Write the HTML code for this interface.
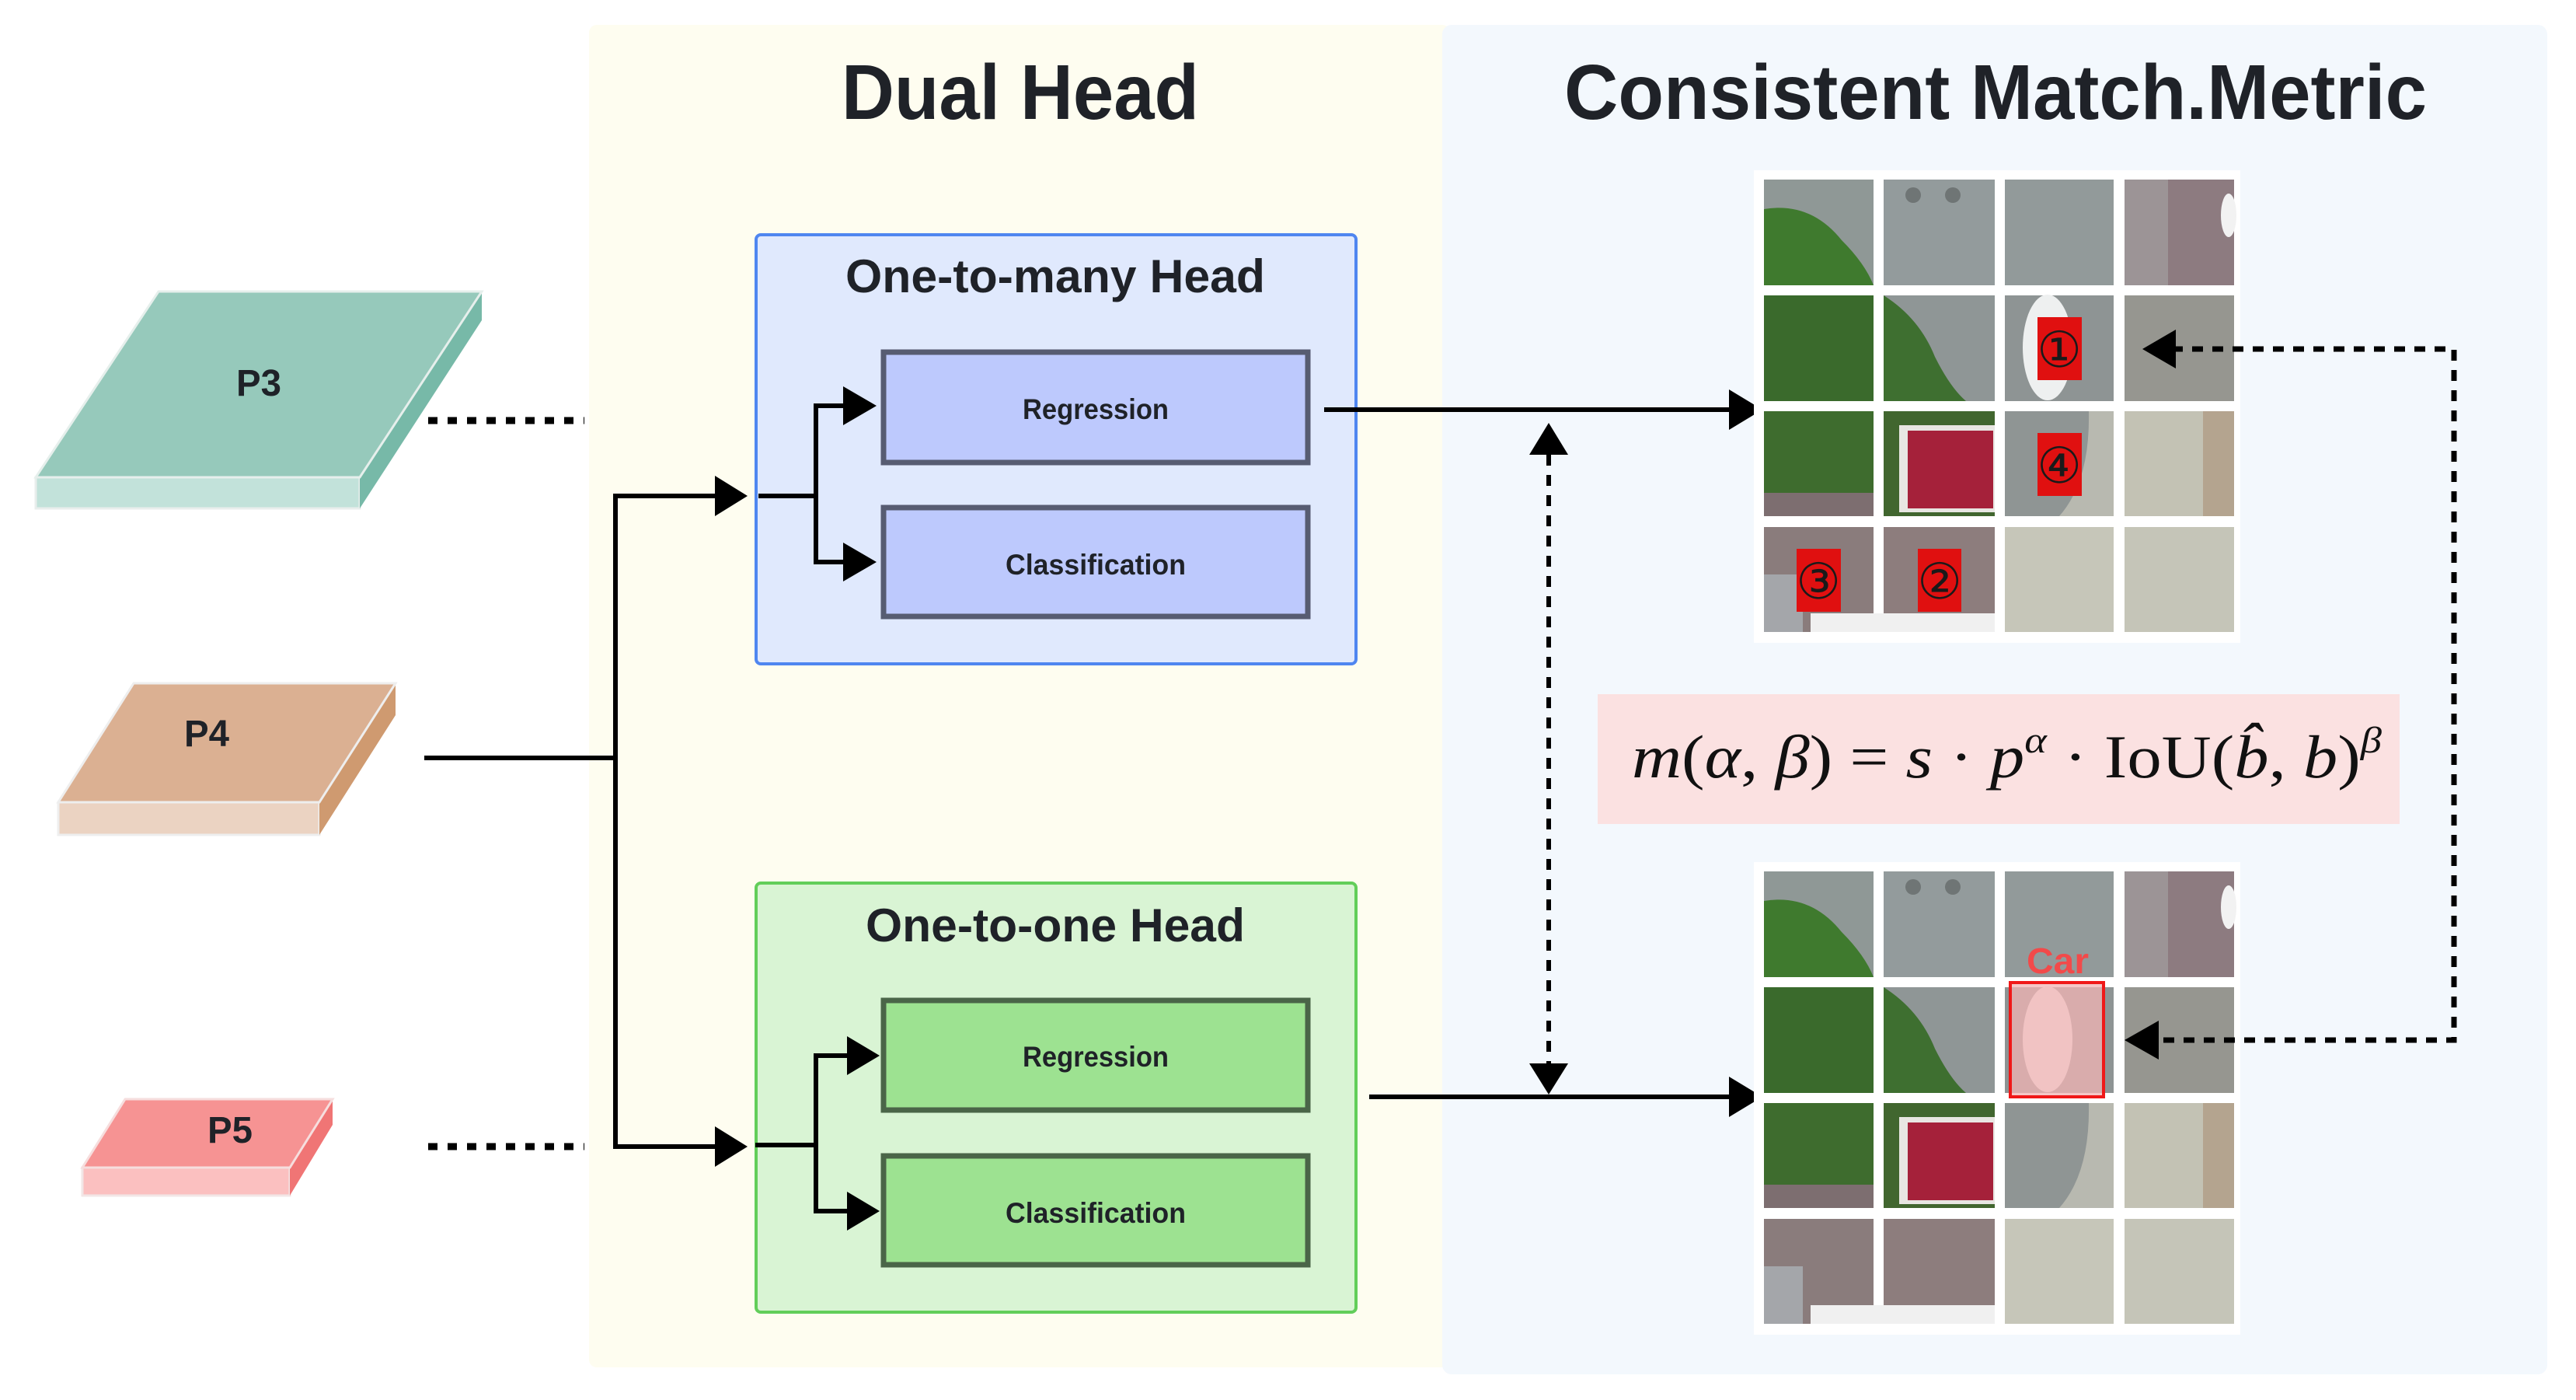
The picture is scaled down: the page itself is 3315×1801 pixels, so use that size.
<!DOCTYPE html>
<html><head><meta charset="utf-8"><style>
html,body{margin:0;padding:0;background:#fff;}
svg{display:block;}
.t{font-family:"Liberation Sans",sans-serif;font-weight:bold;fill:#1f2228;}
.f{font-family:"Liberation Serif","DejaVu Serif",serif;fill:#111;}
</style></head><body>
<svg width="3315" height="1801" viewBox="0 0 3315 1801" xmlns="http://www.w3.org/2000/svg">
<defs>
<g id="grid">
  <rect x="2257" y="0" width="626" height="608" fill="#ffffff"/>
  <rect x="2270" y="12" width="141" height="136" fill="#8f9896"/>
  <path d="M2270 50 Q2330 40 2370 90 Q2400 120 2411 148 L2270 148Z" fill="#3f7a2e"/>
  <rect x="2424" y="12" width="143" height="136" fill="#939b9c"/>
  <circle cx="2462" cy="32" r="10" fill="#6f7575"/><circle cx="2513" cy="32" r="10" fill="#6f7575"/>
  <rect x="2580" y="12" width="140" height="136" fill="#929a9a"/>
  <rect x="2734" y="12" width="141" height="136" fill="#9c9496"/>
  <rect x="2790" y="12" width="85" height="136" fill="#8d7b80"/>
  <ellipse cx="2868" cy="58" rx="10" ry="28" fill="#f2f2f2"/>
  <rect x="2270" y="161" width="141" height="136" fill="#3a6a2c"/>
  <rect x="2424" y="161" width="143" height="136" fill="#8f9696"/>
  <path d="M2424 161 Q2470 190 2490 240 Q2510 280 2530 297 L2424 297Z" fill="#3e6f30"/>
  <rect x="2580" y="161" width="140" height="136" fill="#8e9494"/>
  <ellipse cx="2635" cy="228" rx="32" ry="68" fill="#eef0f0"/>
  <rect x="2734" y="161" width="141" height="136" fill="#969690"/>
  <rect x="2270" y="310" width="141" height="135" fill="#3e6c2e"/>
  <rect x="2270" y="415" width="141" height="30" fill="#7d6e70"/>
  <rect x="2424" y="310" width="143" height="135" fill="#41662f"/>
  <rect x="2444" y="328" width="123" height="112" fill="#e8e6e2"/>
  <rect x="2455" y="335" width="110" height="100" fill="#a5213a"/>
  <rect x="2580" y="310" width="140" height="135" fill="#b8b9b0"/>
  <path d="M2580 310 L2688 310 Q2690 400 2650 445 L2580 445Z" fill="#8f9594"/>
  <rect x="2734" y="310" width="141" height="135" fill="#c3c2b4"/>
  <rect x="2835" y="310" width="40" height="135" fill="#b4a48f"/>
  <rect x="2270" y="459" width="141" height="135" fill="#8a7c7c"/>
  <rect x="2270" y="520" width="50" height="74" fill="#a4a6aa"/>
  <rect x="2424" y="459" width="143" height="135" fill="#8d7d7d"/>
  <rect x="2330" y="570" width="237" height="24" fill="#f0f0f0"/>
  <rect x="2580" y="459" width="140" height="135" fill="#c6c6b9"/>
  <rect x="2734" y="459" width="141" height="135" fill="#c5c5b8"/>
</g>
</defs>

<rect x="758" y="32" width="1108" height="1727" rx="10" fill="#fefdf0"/>
<rect x="1856" y="32" width="1422" height="1736" rx="12" fill="#f3f8fd"/>

<text class="t" x="1313" y="153" font-size="100" text-anchor="middle" textLength="460" lengthAdjust="spacingAndGlyphs">Dual Head</text>
<text class="t" x="2568" y="153" font-size="100" text-anchor="middle" textLength="1110" lengthAdjust="spacingAndGlyphs">Consistent Match.Metric</text>

<polygon points="46,614 463,614 463,654 46,654" fill="#c2e2da" stroke="#e8eeec" stroke-width="3"/>
<polygon points="463,614 620,375 620,412 463,654" fill="#77b9a8"/>
<polygon points="204,375 620,375 463,614 46,614" fill="#96c9bb" stroke="#e6efec" stroke-width="3"/>
<text class="t" x="333" y="509" font-size="48" text-anchor="middle" textLength="58" lengthAdjust="spacingAndGlyphs">P3</text>
<polygon points="75,1032 411,1032 411,1074 75,1074" fill="#ebd3c2" stroke="#eeeeee" stroke-width="3"/>
<polygon points="411,1032 509,879 509,920 411,1074" fill="#cf9a70"/>
<polygon points="172,879 509,879 411,1032 75,1032" fill="#dbb092" stroke="#eeeeee" stroke-width="3"/>
<text class="t" x="266" y="960" font-size="48" text-anchor="middle" textLength="58" lengthAdjust="spacingAndGlyphs">P4</text>
<polygon points="106,1502 373,1502 373,1538 106,1538" fill="#fbc0c0" stroke="#f2e6e6" stroke-width="3"/>
<polygon points="373,1502 428,1414 428,1447 373,1538" fill="#f07575"/>
<polygon points="161,1414 428,1414 373,1502 106,1502" fill="#f69393" stroke="#f6dede" stroke-width="3"/>
<text class="t" x="296" y="1470" font-size="48" text-anchor="middle" textLength="58" lengthAdjust="spacingAndGlyphs">P5</text>

<line x1="551" y1="541" x2="752" y2="541" stroke="#000" stroke-width="9" stroke-dasharray="12 13"/>
<line x1="551" y1="1475" x2="752" y2="1475" stroke="#000" stroke-width="9" stroke-dasharray="12 13"/>

<g stroke="#000" stroke-width="6" fill="none">
<line x1="546" y1="975" x2="792" y2="975"/>
<polyline points="925,638 792,638 792,1475 925,1475"/>
</g>
<polygon points="920,612 962,638 920,664" fill="#000"/>
<polygon points="920,1449 962,1475 920,1501" fill="#000"/>

<rect x="973" y="302" width="772" height="552" rx="6" fill="#e0e9fd" stroke="#4f86f0" stroke-width="4"/>
<text class="t" x="1358" y="376" font-size="60" text-anchor="middle" textLength="540" lengthAdjust="spacingAndGlyphs">One-to-many Head</text>
<rect x="1137" y="453" width="546" height="142" fill="#bdc9fd" stroke="#575c72" stroke-width="7"/>
<text class="t" x="1410" y="539" font-size="37" text-anchor="middle" textLength="188" lengthAdjust="spacingAndGlyphs">Regression</text>
<rect x="1137" y="653" width="546" height="140" fill="#bdc9fd" stroke="#575c72" stroke-width="7"/>
<text class="t" x="1410" y="739" font-size="37" text-anchor="middle" textLength="232" lengthAdjust="spacingAndGlyphs">Classification</text>
<g stroke="#000" stroke-width="6" fill="none">
<line x1="976" y1="638" x2="1050" y2="638"/>
<polyline points="1095,522 1050,522 1050,723 1095,723"/>
</g>
<polygon points="1085,497 1128,522 1085,547" fill="#000"/>
<polygon points="1085,698 1128,723 1085,748" fill="#000"/>

<rect x="973" y="1136" width="772" height="552" rx="6" fill="#d9f4d4" stroke="#62ce5a" stroke-width="4"/>
<text class="t" x="1358" y="1211" font-size="60" text-anchor="middle" textLength="488" lengthAdjust="spacingAndGlyphs">One-to-one Head</text>
<rect x="1137" y="1287" width="546" height="141" fill="#9de291" stroke="#4a6548" stroke-width="7"/>
<text class="t" x="1410" y="1372" font-size="37" text-anchor="middle" textLength="188" lengthAdjust="spacingAndGlyphs">Regression</text>
<rect x="1137" y="1487" width="546" height="140" fill="#9de291" stroke="#4a6548" stroke-width="7"/>
<text class="t" x="1410" y="1573" font-size="37" text-anchor="middle" textLength="232" lengthAdjust="spacingAndGlyphs">Classification</text>
<g stroke="#000" stroke-width="6" fill="none">
<line x1="972" y1="1473" x2="1050" y2="1473"/>
<polyline points="1095,1358 1050,1358 1050,1558 1095,1558"/>
</g>
<polygon points="1090,1333 1132,1358 1090,1383" fill="#000"/>
<polygon points="1090,1533 1132,1558 1090,1583" fill="#000"/>

<line x1="1704" y1="527" x2="2230" y2="527" stroke="#000" stroke-width="6"/>
<polygon points="2225,501 2268,527 2225,553" fill="#000"/>
<line x1="1762" y1="1411" x2="2230" y2="1411" stroke="#000" stroke-width="6"/>
<polygon points="2225,1385 2268,1411 2225,1437" fill="#000"/>

<line x1="1993" y1="585" x2="1993" y2="1370" stroke="#000" stroke-width="6" stroke-dasharray="14 12"/>
<polygon points="1968,585 1993,544 2018,585" fill="#000"/>
<polygon points="1968,1368 1993,1408 2018,1368" fill="#000"/>

<use href="#grid" transform="translate(0,219)"/>
<use href="#grid" transform="translate(0,1109)"/>

<g font-family="DejaVu Sans, sans-serif" font-size="64" text-anchor="middle" fill="#1a1a1a">
<rect x="2622" y="408" width="57" height="81" fill="#e01010"/><text x="2650" y="472">①</text>
<rect x="2622" y="557" width="57" height="81" fill="#e01010"/><text x="2650" y="621">④</text>
<rect x="2312" y="706" width="57" height="81" fill="#e01010"/><text x="2340" y="770">③</text>
<rect x="2468" y="706" width="56" height="81" fill="#e01010"/><text x="2496" y="770">②</text>
</g>

<rect x="2587" y="1264" width="120" height="147" fill="#f2b4b4" fill-opacity="0.75" stroke="#f01818" stroke-width="4"/>
<text x="2648" y="1252" font-family="Liberation Sans, sans-serif" font-weight="bold" font-size="46" fill="#f24a4a" text-anchor="middle" textLength="80" lengthAdjust="spacingAndGlyphs">Car</text>

<!-- right dotted loop (above grids) -->
<polyline points="2795,449 3158,449 3158,1338 2775,1338" fill="none" stroke="#000" stroke-width="7" stroke-dasharray="14 12"/>
<polygon points="2800,424 2757,449 2800,474" fill="#000"/>
<polygon points="2778,1313 2734,1338 2778,1363" fill="#000"/>

<rect x="2056" y="893" width="1032" height="167" fill="#fbe1e1"/>
<text class="f" x="2100" y="1000" font-size="78" textLength="965" lengthAdjust="spacingAndGlyphs"><tspan font-style="italic">m</tspan>(<tspan font-style="italic">α</tspan>, <tspan font-style="italic">β</tspan>) = <tspan font-style="italic">s</tspan> · <tspan font-style="italic">p</tspan><tspan font-style="italic" font-size="48" dy="-32">α</tspan><tspan dy="32"> · IoU(</tspan><tspan font-style="italic">b̂</tspan>,  <tspan font-style="italic">b</tspan>)<tspan font-style="italic" font-size="48" dy="-32">β</tspan></text>
</svg>
</body></html>
